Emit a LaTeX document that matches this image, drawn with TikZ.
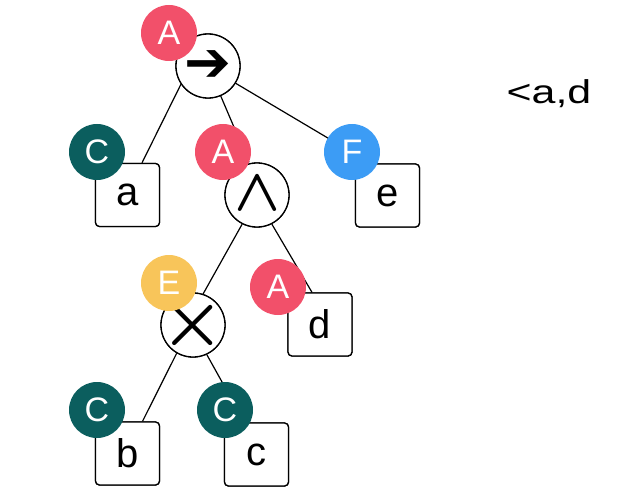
\RequirePackage{fix-cm}
\documentclass[tikz,border=0pt]{standalone}
\usepackage{bm}
\usepackage{fontspec}
\setmainfont{Liberation Sans}
\newfontfamily\dejavu{DejaVu Sans}
\usetikzlibrary{calc}
\definecolor{cred}{HTML}{F2506A}
\definecolor{cteal}{HTML}{0B5E5E}
\definecolor{cblue}{HTML}{3C9CF5}
\definecolor{cyellow}{HTML}{F8C55A}
\tikzset{
  opnode/.style={circle, draw=black, line width=1.3pt, fill=white, minimum size=64pt, inner sep=0pt},
  opsym/.style={inner sep=0pt},
  leaf/.style={rectangle, rounded corners=4pt, draw=black, line width=1.3pt, fill=white,
    minimum width=64pt, minimum height=63pt, inner sep=0pt, font=\fontsize{40}{40}\selectfont},
  badge/.style={circle, minimum size=56pt, inner sep=0pt, text=white, font=\fontsize{34}{34}\selectfont},
  edge/.style={line width=1.2pt}
}
\begin{document}
\begin{tikzpicture}[x=1pt,y=-1pt]
\useasboundingbox (0,0) rectangle (634,500);
% operator circles
\node[opnode] (root) at (208,66) {};
\node[opnode] (and) at (257,195) {};
\node[opnode] (times) at (193,325) {};
% leaves
\node[leaf] (la) at (127.5,195) {a};
\node[leaf] (le) at (387.5,195.5) {e};
\node[leaf] (ld) at (320,324.5) {d};
\node[leaf] (lb) at (127.5,453.5) {b};
\node[leaf] (lc) at (256.5,454.5) {c};
% connectors
\draw[edge] (root.214) -- ($(la.north)+(14.5,0)$);
\draw[edge] (root.293) -- ($(and.north)+(-8,0)$);
\draw[edge] (root.328) -- ($(le.north)+(-17,0)$);
\draw[edge] (and.243) -- (times.72);
\draw[edge] (and.297) -- ($(ld.north)+(-8,0)$);
\draw[edge] (times.240) -- ($(lb.north)+(15,0)$);
\draw[edge] (times.295) -- ($(lc.north)+(-12,0)$);
% redraw nodes over connectors
\node[opnode] at (root) {};
\node[opnode] at (and) {};
\node[opnode] at (times) {};
\node[opsym] (sroot) at (root) {\dejavu\fontsize{56}{56}\selectfont ➔};
\node[opsym] (sand) at (257,194) {\fontsize{60}{60}\selectfont$\bm{\wedge}$};
\node[opsym] (stimes) at (193,325) {\fontsize{72}{72}\selectfont$\bm{\times}$};
\node[leaf] at (la) {a};
\node[leaf] at (le) {e};
\node[leaf] at (ld) {d};
\node[leaf] at (lb) {b};
\node[leaf] at (lc) {c};
% badges
\node[badge, fill=cred] (b1) at (169,33) {A};
\node[badge, fill=cteal] (b2) at (97,152) {C};
\node[badge, fill=cred] (b3) at (223,152) {A};
\node[badge, fill=cblue] (b4) at (352,152) {F};
\node[badge, fill=cyellow] (b5) at (169,283) {E};
\node[badge, fill=cred] (b6) at (278,287) {A};
\node[badge, fill=cteal] (b7) at (97,410) {C};
\node[badge, fill=cteal] (b8) at (225,410) {C};
% side text
\node[font=\fontsize{33}{33}\selectfont, xscale=1.3] (txt) at (549,94) {<a,d};
\end{tikzpicture}
\end{document}
